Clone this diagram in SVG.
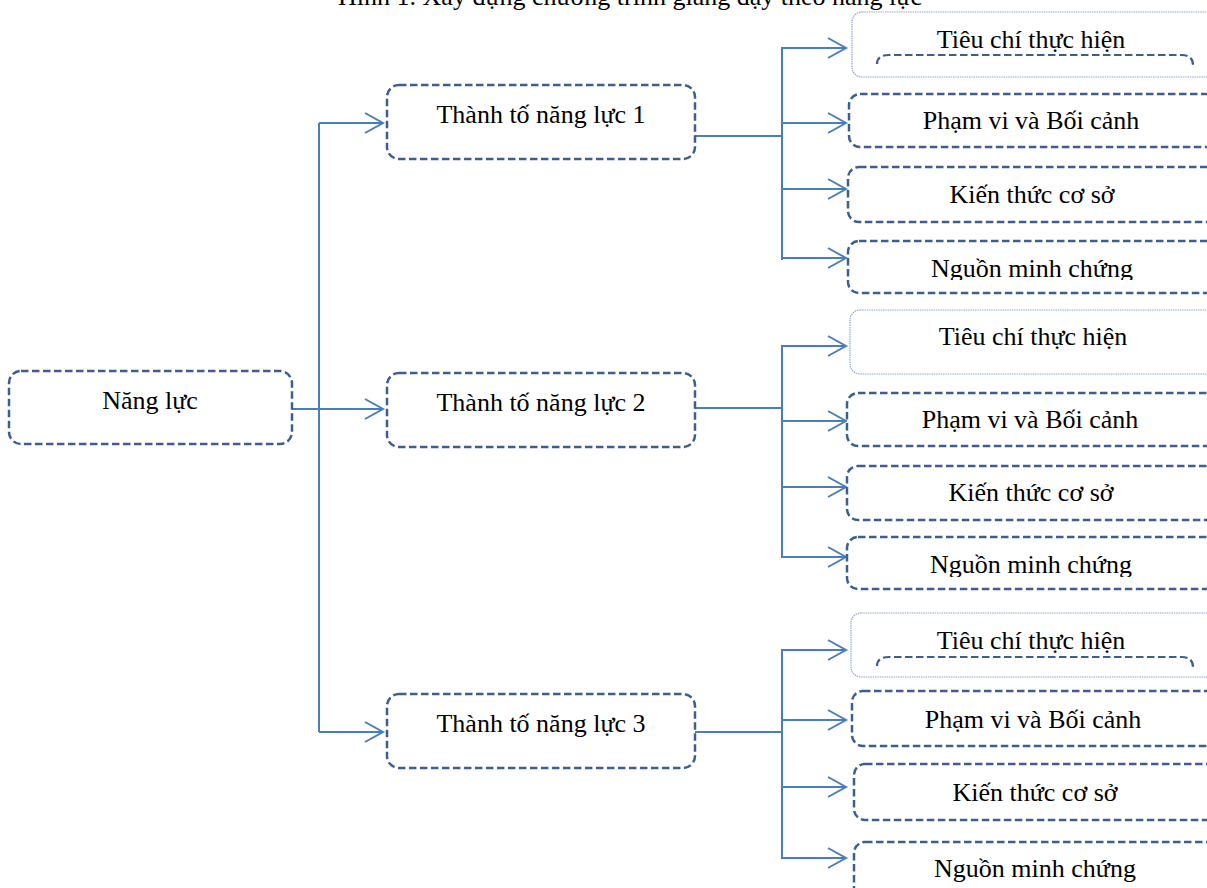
<svg xmlns="http://www.w3.org/2000/svg" width="1207" height="888" viewBox="0 0 1207 888">
<style>
  text { font-family: "Liberation Serif", "Times New Roman", serif; font-size: 26px; fill: #000; text-anchor: middle; }
  .box { fill: #fff; stroke: #3D5F8F; stroke-width: 2.5; stroke-dasharray: 7.5 3.5; }
  .thin { fill: #fff; stroke: #8FA8CC; stroke-width: 1.2; stroke-dasharray: 1.5 0.8; }
  .inner { fill: none; stroke: #3D5F8F; stroke-width: 2.2; stroke-dasharray: 7.5 3.5; }
  .conn { fill: none; stroke: #4A7EBB; stroke-width: 2; }
  .arr { marker-end: url(#arrow); }
</style>
<defs>
  <marker id="arrow" markerUnits="userSpaceOnUse" markerWidth="22" markerHeight="24" refX="18" refY="11" orient="auto" overflow="visible">
    <path d="M0,1 L18,11 L0,21" fill="none" stroke="#4A7EBB" stroke-width="2"/>
  </marker>
  <clipPath id="clip1"><rect x="840" y="230" width="380" height="50"/></clipPath>
  <clipPath id="clip2"><rect x="840" y="530" width="380" height="47"/></clipPath>
</defs>
<rect width="1207" height="888" fill="#fff"/>
<text id="title" x="630" y="5">Hình 1. Xây dựng chương trình giảng dạy theo năng lực</text>

<g id="connectors">
  <path class="conn arr" d="M292,409 H383"/>
  <path class="conn" d="M319,123 V732"/>
  <path class="conn arr" d="M319,123 H383"/>
  <path class="conn arr" d="M319,732 H383"/>

  <path class="conn" d="M695,136 H783"/>
  <path class="conn" d="M782,47 V260"/>
  <path class="conn arr" d="M782,48 H846"/>
  <path class="conn arr" d="M782,123 H846"/>
  <path class="conn arr" d="M782,189 H846"/>
  <path class="conn arr" d="M782,258 H846"/>

  <path class="conn" d="M695,408 H783"/>
  <path class="conn" d="M782,345 V558"/>
  <path class="conn arr" d="M782,346 H846"/>
  <path class="conn arr" d="M782,421 H846"/>
  <path class="conn arr" d="M782,487 H846"/>
  <path class="conn arr" d="M782,557 H846"/>

  <path class="conn" d="M695,732 H783"/>
  <path class="conn" d="M782,649 V859"/>
  <path class="conn arr" d="M782,650 H846"/>
  <path class="conn arr" d="M782,720 H846"/>
  <path class="conn arr" d="M782,787 H846"/>
  <path class="conn arr" d="M782,858 H846"/>
</g>

<g id="nang-luc">
  <rect class="box" x="9" y="371" width="283" height="73" rx="12"/>
  <text x="150" y="409">Năng lực</text>
</g>
<g id="thanh-to-1">
  <rect class="box" x="387" y="85" width="308" height="74" rx="12"/>
  <text x="541" y="123">Thành tố năng lực 1</text>
</g>
<g id="thanh-to-2">
  <rect class="box" x="387" y="373" width="308" height="74" rx="12"/>
  <text x="541" y="411">Thành tố năng lực 2</text>
</g>
<g id="thanh-to-3">
  <rect class="box" x="387" y="694" width="308" height="74" rx="12"/>
  <text x="541" y="732">Thành tố năng lực 3</text>
</g>

<g id="tieu-chi-1">
  <rect class="thin" x="852" y="12" width="380" height="65" rx="10"/>
  <path class="inner" d="M877,64 Q877,55 889,55 L1181,55 Q1193,55 1193,65"/>
  <text x="1031" y="48">Tiêu chí thực hiện</text>
</g>
<g id="pham-vi-1">
  <rect class="box" x="849" y="94" width="380" height="53" rx="11"/>
  <text x="1031" y="129">Phạm vi và Bối cảnh</text>
</g>
<g id="kien-thuc-1">
  <rect class="box" x="848" y="167" width="380" height="55" rx="11"/>
  <text x="1032" y="203">Kiến thức cơ sở</text>
</g>
<g id="nguon-1">
  <rect class="box" x="848" y="241" width="380" height="52" rx="11"/>
  <text x="1032" y="277" clip-path="url(#clip1)">Nguồn minh chứng</text>
</g>

<g id="tieu-chi-2">
  <rect class="thin" x="850" y="310" width="380" height="64" rx="10"/>
  <text x="1033" y="345">Tiêu chí thực hiện</text>
</g>
<g id="pham-vi-2">
  <rect class="box" x="847" y="393" width="380" height="53" rx="11"/>
  <text x="1030" y="428">Phạm vi và Bối cảnh</text>
</g>
<g id="kien-thuc-2">
  <rect class="box" x="847" y="466" width="380" height="54" rx="11"/>
  <text x="1031" y="501">Kiến thức cơ sở</text>
</g>
<g id="nguon-2">
  <rect class="box" x="847" y="537" width="380" height="52" rx="11"/>
  <text x="1031" y="573" clip-path="url(#clip2)">Nguồn minh chứng</text>
</g>

<g id="tieu-chi-3">
  <rect class="thin" x="851" y="613" width="380" height="64" rx="10"/>
  <path class="inner" d="M877,666 Q877,657 889,657 L1181,657 Q1193,657 1193,667"/>
  <text x="1031" y="649">Tiêu chí thực hiện</text>
</g>
<g id="pham-vi-3">
  <rect class="box" x="852" y="691" width="380" height="55" rx="11"/>
  <text x="1033" y="728">Phạm vi và Bối cảnh</text>
</g>
<g id="kien-thuc-3">
  <rect class="box" x="854" y="764" width="380" height="56" rx="11"/>
  <text x="1035" y="801">Kiến thức cơ sở</text>
</g>
<g id="nguon-3">
  <rect class="box" x="854" y="842" width="380" height="60" rx="11"/>
  <text x="1035" y="877">Nguồn minh chứng</text>
</g>
</svg>
